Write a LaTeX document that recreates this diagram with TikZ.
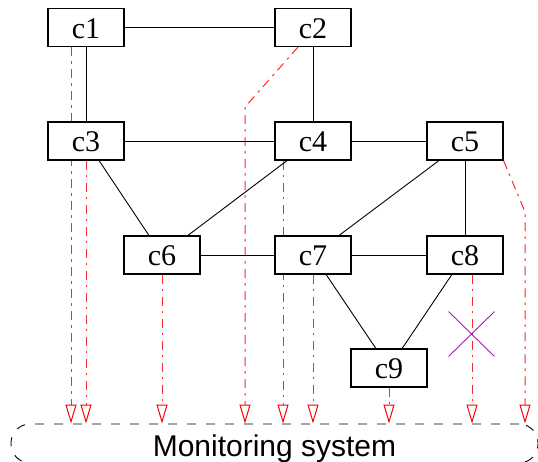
\documentclass[tikz,border=0pt]{standalone}
\usepackage{fontspec}
\setmainfont{Liberation Serif}
\newfontfamily\msfont{Liberation Sans}
\usetikzlibrary{arrows.meta,backgrounds,shapes.misc}
\definecolor{monred}{RGB}{255,40,40}
\definecolor{xpurple}{RGB}{160,32,170}
\begin{document}
\begin{tikzpicture}[x=1pt,y=-1pt,
  comp/.style={draw,line width=1.2pt,fill=white,minimum width=76pt,minimum height=38pt,
    inner sep=0pt,font=\fontsize{30}{32}\selectfont,text height=21pt,text depth=0pt},
  link/.style={line width=0.9pt},
  mon/.style={draw=monred,line width=1pt,dash pattern=on 9pt off 5pt on 2.5pt off 5.5pt,
    -{Triangle[open,length=19pt,width=11pt,line width=1pt,color=red]}},
  monsys/.style={draw,line width=0.9pt,dash pattern=on 9pt off 10pt,rounded corners=19pt,
    minimum width=527pt,minimum height=39pt,inner sep=0pt,
    font=\msfont\fontsize{30}{32}\selectfont,text height=25pt,text depth=0pt},
  crossmark/.style={cross out,draw=xpurple,line width=0.9pt,minimum width=45pt,
    minimum height=44pt,inner sep=0pt}
]
\useasboundingbox (0,0) rectangle (538,461);

\node[comp] (c1) at (86,27.5) {c1};
\node[comp] (c2) at (313,27.5) {c2};
\node[comp] (c3) at (86,141) {c3};
\node[comp] (c4) at (313,141) {c4};
\node[comp] (c5) at (465,141) {c5};
\node[comp] (c6) at (162,255) {c6};
\node[comp] (c7) at (313,255) {c7};
\node[comp] (c8) at (465,255) {c8};
\node[comp] (c9) at (389,368) {c9};

\node[monsys] (ms) at (274.5,443.5) {Monitoring system};

\draw[link] (c1) -- (c2);
\draw[link] (c1) -- (c3);
\draw[link] (c2) -- (c4);
\draw[link] (c3) -- (c4);
\draw[link] (c4) -- (c5);
\draw[link] (c3) -- (c6);
\draw[link] (c4) -- (c6);
\draw[link] (c5) -- (c7);
\draw[link] (c5) -- (c8);
\draw[link] (c6) -- (c7);
\draw[link] (c7) -- (c8);
\draw[link] (c7) -- (c9);
\draw[link] (c8) -- (c9);

\path (c1.south) ++(-15,0) coordinate (s1);
\path (c2.south) ++(-15,0) coordinate (s2);
\path (c4.south) ++(-30,0) coordinate (s4);
\path (c8.south) ++(7,0) coordinate (s8);
\coordinate (b2) at (245,107);
\coordinate (b5) at (525,212);

\begin{pgfonlayer}{background}
\draw[mon] (s1) -- (s1 |- ms.north);
\draw[mon] (c3.south) -- (c3.south |- ms.north);
\draw[mon] (s2) -- (b2) -- (b2 |- ms.north);
\draw[mon] (s4) -- (s4 |- ms.north);
\draw[mon] (c7.south) -- (c7.south |- ms.north);
\draw[mon] (c6.south) -- (c6.south |- ms.north);
\draw[mon] (c9.south) -- (c9.south |- ms.north);
\draw[mon] (s8) -- (s8 |- ms.north);
\draw[mon] (c5.south east) -- (b5) -- (b5 |- ms.north);
\end{pgfonlayer}

\node[crossmark] (x8) at (471.5,334) {};
\end{tikzpicture}
\end{document}
